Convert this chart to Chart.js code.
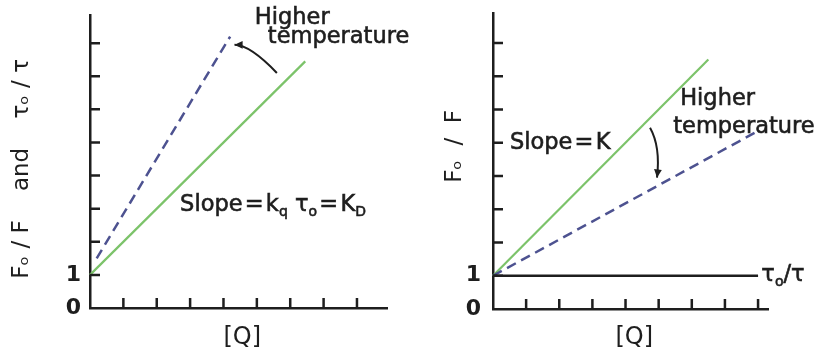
<!DOCTYPE html>
<html>
<head>
<meta charset="utf-8">
<script src="https://cdn.jsdelivr.net/npm/chart.js@4"></script>
<style>
  body { margin: 0; background: #fff; width: 833px; height: 358px; overflow: hidden; position: relative; }
  .panel { position: absolute; top: 0; height: 358px; }
</style>
</head>
<body>
<div class="panel" style="left:0;width:416px"><canvas id="leftPlot" width="416" height="358"></canvas></div>
<div class="panel" style="left:416px;width:417px"><canvas id="rightPlot" width="417" height="358"></canvas></div>
<script>
// tick positions on both axes (only 0 and 1 get a label)
const tickSteps = [1, 2, 3, 4, 5, 6, 7, 8];
const labelledRatios = [0, 1];

// left plot: dynamic quenching, F0/F and tau0/tau vs [Q]
const leftGreenQ = [0, 6.45];
const leftGreenRatio = [1, 7.45];
const leftDashQ = [0.2, 4.2];
const leftDashRatio = [1.5, 8.2];

// right plot: static quenching, F0/F vs [Q] and tau0/tau flat at 1
const rightGreenQ = [0, 6.5];
const rightGreenRatio = [1, 7.5];
const rightDashQ = [0, 7.9];
const rightDashRatio = [1, 5.3];
const rightTauQ = [0, 8];
const rightTauRatio = [1, 1];

const ink = '#1e1e1e';
const green = '#7cc36a';
const slate = '#4d5290';
Chart.defaults.font.family = '"DejaVu Sans", sans-serif';

const pts = (xs, ys) => xs.map((x, i) => ({ x: x, y: ys[i] }));

// text with optional subscript runs: strings are normal, [str] is subscript
function drawRich(ctx, x, y, parts, size) {
    let cx = x;
    ctx.lineWidth = 0.6;
    parts.forEach(p => {
        const isSub = Array.isArray(p);
        const t = isSub ? p[0] : p;
        ctx.font = (isSub ? Math.round(size * 0.62) : size) + 'px "DejaVu Sans"';
        const ty = isSub ? y + size * 0.32 : y;
        ctx.fillText(t, cx, ty);
        ctx.strokeText(t, cx, ty);
        cx += ctx.measureText(t).width;
    });
}

function makeExtras(texts, arrows) {
    return {
        id: 'sketchExtras',
        afterDraw(chart) {
            const ctx = chart.ctx;
            const xs = chart.scales.x, ys = chart.scales.y;
            ctx.save();
            // inward tick marks
            ctx.strokeStyle = ink;
            ctx.lineWidth = 2.5;
            ctx.beginPath();
            tickSteps.forEach(v => {
                if (v > xs.max) return;
                const px = xs.getPixelForValue(v);
                ctx.moveTo(px, ys.bottom);
                ctx.lineTo(px, ys.bottom - 10);
            });
            tickSteps.forEach(v => {
                const py = ys.getPixelForValue(v);
                ctx.moveTo(xs.left, py);
                ctx.lineTo(xs.left + 10, py);
            });
            ctx.stroke();

            // labels
            ctx.fillStyle = ink;
            ctx.textBaseline = 'middle';
            ctx.textAlign = 'left';
            texts.forEach(t => {
                drawRich(ctx, xs.getPixelForValue(t.q), ys.getPixelForValue(t.r), t.parts, t.size);
            });

            // curved arrows
            arrows.forEach(a => {
                const p0 = [xs.getPixelForValue(a.from[0]), ys.getPixelForValue(a.from[1])];
                const c = [xs.getPixelForValue(a.ctrl[0]), ys.getPixelForValue(a.ctrl[1])];
                const p1 = [xs.getPixelForValue(a.to[0]), ys.getPixelForValue(a.to[1])];
                ctx.lineWidth = 2;
                ctx.beginPath();
                ctx.moveTo(p0[0], p0[1]);
                ctx.quadraticCurveTo(c[0], c[1], p1[0], p1[1]);
                ctx.stroke();
                const ang = Math.atan2(p1[1] - c[1], p1[0] - c[0]);
                const L = 9, W = 0.45;
                ctx.beginPath();
                ctx.moveTo(p1[0], p1[1]);
                ctx.lineTo(p1[0] - L * Math.cos(ang - W), p1[1] - L * Math.sin(ang - W));
                ctx.lineTo(p1[0] - L * Math.cos(ang + W), p1[1] - L * Math.sin(ang + W));
                ctx.closePath();
                ctx.fill();
            });
            ctx.restore();
        }
    };
}

function buildPlot(id, box, datasets, texts, arrows) {
    const canvas = document.getElementById(id);
    return new Chart(canvas, {
        type: 'scatter',
        data: { datasets: datasets },
        options: {
            responsive: false,
            animation: false,
            layout: { padding: { left: 0, top: box.top, right: canvas.width - box.right, bottom: 0 } },
            plugins: { legend: { display: false }, tooltip: { enabled: false } },
            scales: {
                x: {
                    type: 'linear', min: 0, max: box.xMax,
                    grid: { display: false, drawTicks: false },
                    border: { display: true, color: ink, width: 2.5 },
                    ticks: { display: false },
                    title: { display: true, text: ' [Q]', color: ink, font: { size: 24 }, padding: { top: 0, bottom: 6 } },
                    afterFit: s => { s.height = canvas.height - box.bottom; }
                },
                y: {
                    type: 'linear', min: 0, max: box.yMax,
                    grid: { display: false, drawTicks: false },
                    border: { display: true, color: ink, width: 2.5 },
                    ticks: {
                        stepSize: 1, autoSkip: false, padding: box.tickPad, color: ink,
                        font: { size: 22, weight: 'bold' },
                        callback: v => labelledRatios.includes(v) ? String(v) : null
                    },
                    title: { display: true, text: box.yTitle, color: ink, font: { size: 23 }, padding: { top: box.titlePad, bottom: 0 } },
                    // fixed width, and no extra room above the top tick
                    afterFit: s => { s.width = box.left; s.paddingTop = 0; }
                }
            }
        },
        plugins: [makeExtras(texts, arrows)]
    });
}

const line = (data, color, width, dash) => ({
    data: data, showLine: true, borderColor: color, borderWidth: width,
    borderDash: dash || [], pointRadius: 0, clip: false
});

buildPlot('leftPlot',
    { left: 90, right: 387, top: 15, bottom: 308, xMax: 8.9, yMax: 8.85, tickPad: 9, titlePad: 8,
      yTitle: 'Fₒ / F    and    τₒ / τ  ' },
    [
        line(pts(leftDashQ, leftDashRatio), slate, 2.5, [10, 6]),
        line(pts(leftGreenQ, leftGreenRatio), green, 2.2)
    ],
    [
        { q: 4.94, r: 8.76, size: 22.5, parts: ['Higher'] },
        { q: 5.33, r: 8.19, size: 22.5, parts: ['temperature'] },
        { q: 2.7, r: 3.11, size: 22.5, parts: ['Slope\u200a=\u200ak', ['q'], ' τ', ['o'], '\u200a=\u200aK', ['D']] }
    ],
    [ { from: [5.6, 7.1], ctrl: [4.79, 7.95], to: [4.33, 7.95] } ]
);

buildPlot('rightPlot',
    { left: 77, right: 352, top: 13, bottom: 309, xMax: 8.3, yMax: 8.9, tickPad: 12, titlePad: 25,
      yTitle: '    Fₒ  /  F' },
    [
        line(pts(rightTauQ, rightTauRatio), ink, 2.5),
        line(pts(rightDashQ, rightDashRatio), slate, 2.5, [10, 6]),
        line(pts(rightGreenQ, rightGreenRatio), green, 2.2)
    ],
    [
        { q: 0.51, r: 5.0, size: 22.5, parts: ['Slope\u200a=\u200aK'] },
        { q: 5.65, r: 6.3, size: 22.5, parts: ['Higher'] },
        { q: 5.44, r: 5.48, size: 22.5, parts: ['temperature'] },
        { q: 8.1, r: 1.02, size: 22.5, parts: ['τ', ['o'], '/τ'] }
    ],
    [ { from: [4.74, 5.45], ctrl: [5.06, 4.88], to: [4.95, 3.95] } ]
);
</script>
</body>
</html>
